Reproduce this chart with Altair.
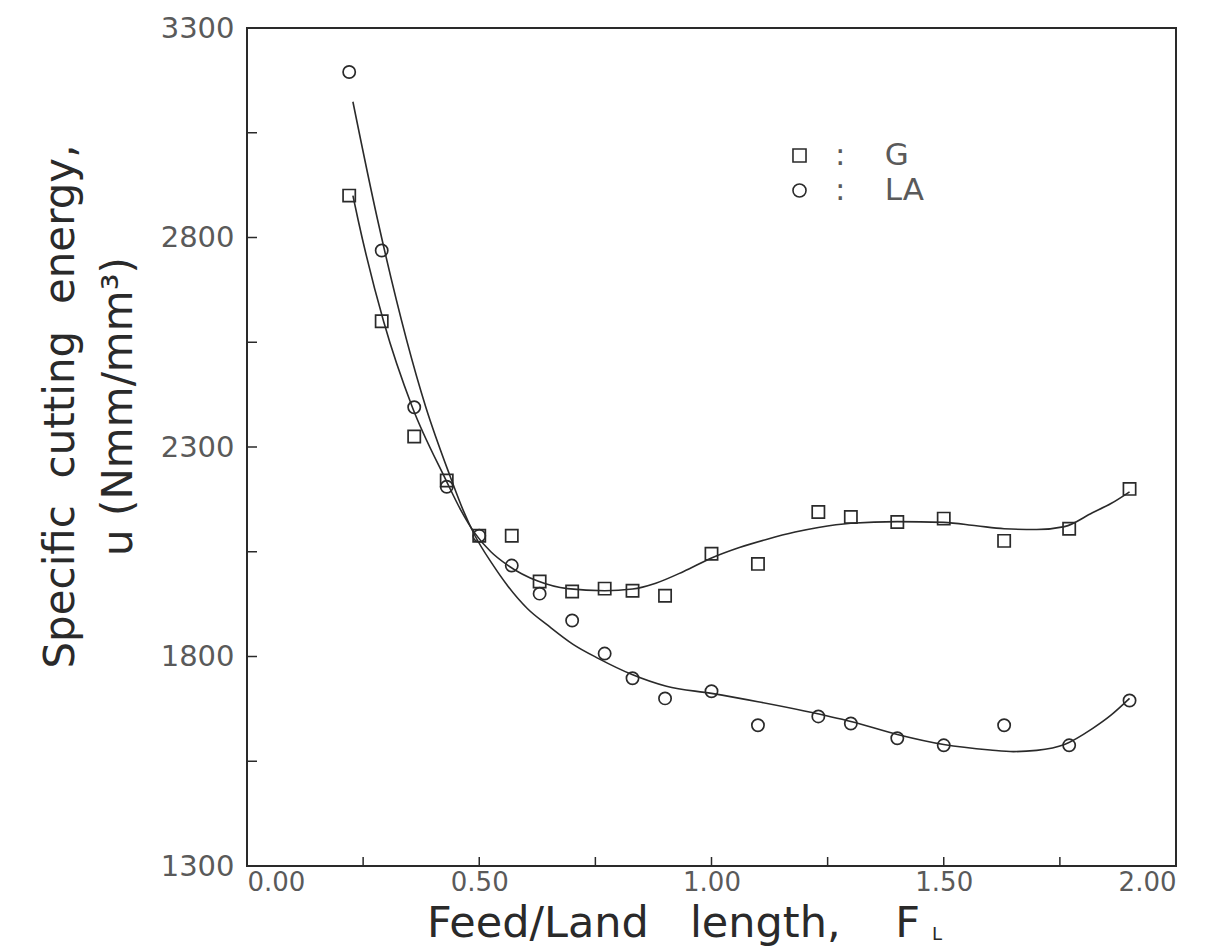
import altair as alt
import pandas as pd

# Measured points (feed/land length ratio F_L)
feed = [0.22, 0.29, 0.36, 0.43, 0.50, 0.57, 0.63, 0.70, 0.77, 0.83,
        0.90, 1.00, 1.10, 1.23, 1.30, 1.40, 1.50, 1.63, 1.77, 1.90]
energy_g = [2900, 2600, 2325, 2220, 2088, 2088, 1979, 1955, 1962, 1957,
            1945, 2045, 2021, 2145, 2133, 2121, 2129, 2076, 2105, 2200]
energy_la = [3195, 2769, 2395, 2205, 2088, 2017, 1950, 1886, 1807, 1748,
             1700, 1717, 1636, 1657, 1640, 1605, 1588, 1636, 1588, 1695]

# Fitted curves
fit_g_x = [0.228, 0.239, 0.294, 0.356, 0.427, 0.46, 0.49, 0.525, 0.561, 0.626,
           0.69, 0.77, 0.83, 0.88, 0.94, 1.00, 1.06, 1.12, 1.18, 1.23,
           1.30, 1.40, 1.50, 1.57, 1.63, 1.70, 1.76, 1.82, 1.86, 1.90]
fit_g_y = [2900, 2843, 2600, 2395, 2224, 2150, 2095, 2050, 2018, 1980,
           1962, 1957, 1961, 1975, 2003, 2035, 2060, 2080, 2097, 2108,
           2118, 2122, 2120, 2112, 2105, 2103, 2110, 2143, 2165, 2193]
fit_la_x = [0.228, 0.281, 0.385, 0.437, 0.465, 0.49, 0.528, 0.561, 0.604, 0.648,
            0.702, 0.757, 0.829, 0.903, 1.00, 1.10, 1.20, 1.30, 1.40, 1.50,
            1.60, 1.65, 1.70, 1.76, 1.82, 1.86, 1.90]
fit_la_y = [3124, 2843, 2395, 2231, 2150, 2090, 2021, 1969, 1914, 1874,
            1829, 1795, 1757, 1729, 1712, 1692, 1670, 1645, 1614, 1590,
            1577, 1573, 1576, 1590, 1628, 1660, 1700]

x_ticks = [0.0, 0.5, 1.0, 1.5, 2.0]
x_minor = [0.25, 0.5, 0.75, 1.0, 1.25, 1.5, 1.75]
y_ticks = [1300, 1800, 2300, 2800, 3300]
y_minor = [1550, 1800, 2050, 2300, 2550, 2800, 3050]

W, H = 929, 838
INK = "#2a2a2a"
LABEL = "#5a5a5a"
FONT = "DejaVu Sans"
NB = "\u00a0"

pts = pd.DataFrame({
    "F": feed * 2,
    "u": energy_g + energy_la,
    "series": ["G"] * len(feed) + ["LA"] * len(feed),
})
fits = pd.DataFrame({
    "F": fit_g_x + fit_la_x,
    "u": fit_g_y + fit_la_y,
    "series": ["G"] * len(fit_g_x) + ["LA"] * len(fit_la_x),
})

xscale = alt.Scale(domain=[0, 2], nice=False, zero=False)
yscale = alt.Scale(domain=[1300, 3300], nice=False, zero=False)

xaxis = alt.Axis(
    values=x_ticks, format=".2f", ticks=False, domain=False, grid=False,
    labelFont=FONT, labelFontSize=26, labelColor=LABEL, labelPadding=3,
    title=f"Feed/Land{NB}{NB}{NB}length,{NB}{NB}{NB}{NB}F", titleFont=FONT,
    titleFontSize=43, titleColor=INK, titleFontWeight="normal",
    titleX=426, titleY=70, titleBaseline="alphabetic", titleAlign="center",
)
yaxis = alt.Axis(
    values=y_ticks, format="d", ticks=False, domain=False, grid=False,
    labelFont=FONT, labelFontSize=29, labelColor=LABEL, labelPadding=13,
    title=[f"Specific{NB}{NB}cutting{NB}{NB}energy,", f"u{NB}(Nmm/mm³)"],
    titleFont=FONT, titleFontSize=42, titleColor=INK, titleFontWeight="normal",
    titleAngle=270, titleX=-207, titleY=378, titleBaseline="top",
    titleAlign="center", titleLineHeight=58,
)

lines = alt.Chart(fits).mark_line(
    color=INK, strokeWidth=1.6, interpolate="monotone"
).encode(
    x=alt.X("F:Q", scale=xscale, axis=xaxis),
    y=alt.Y("u:Q", scale=yscale, axis=yaxis),
    detail="series:N",
)

points = alt.Chart(pts).mark_point(
    filled=False, color=INK, size=150, strokeWidth=1.7, opacity=1
).encode(
    x=alt.X("F:Q", scale=xscale),
    y=alt.Y("u:Q", scale=yscale),
    shape=alt.Shape(
        "series:N",
        scale=alt.Scale(domain=["G", "LA"], range=["square", "circle"]),
        legend=alt.Legend(
            orient="none", legendX=537, legendY=112, title=None,
            symbolSize=170, symbolStrokeWidth=1.6, symbolStrokeColor=INK,
            symbolFillColor="transparent",
            labelFont=FONT, labelFontSize=31, labelColor=LABEL,
            labelExpr=f"':{NB}{NB}{NB}{NB}' + datum.label", labelOffset=20,
            rowPadding=3, padding=0,
        ),
    ),
)

xt = alt.Chart(pd.DataFrame({"t": x_minor})).mark_rule(
    color=INK, strokeWidth=1.5
).encode(
    x=alt.X("t:Q", scale=xscale),
    y=alt.value(H),
    y2=alt.value(H - 9),
)
yt = alt.Chart(pd.DataFrame({"t": y_minor})).mark_rule(
    color=INK, strokeWidth=1.5
).encode(
    y=alt.Y("t:Q", scale=yscale),
    x=alt.value(0),
    x2=alt.value(10),
)

sub = alt.Chart(pd.DataFrame({"s": ["L"]})).mark_text(
    font=FONT, fontSize=18, color=INK, align="left", baseline="alphabetic"
).encode(
    text="s:N",
    x=alt.value(685),
    y=alt.value(912),
)

chart = alt.layer(lines, points, xt, yt, sub).properties(
    width=W, height=H,
    background="white",
    autosize=alt.AutoSizeParams(type="none"),
    padding={"left": 247, "top": 28, "right": 48, "bottom": 82},
).configure_view(
    stroke=INK, strokeWidth=2
)

chart.save("out.html", embed_options={"renderer": "svg", "actions": False})
